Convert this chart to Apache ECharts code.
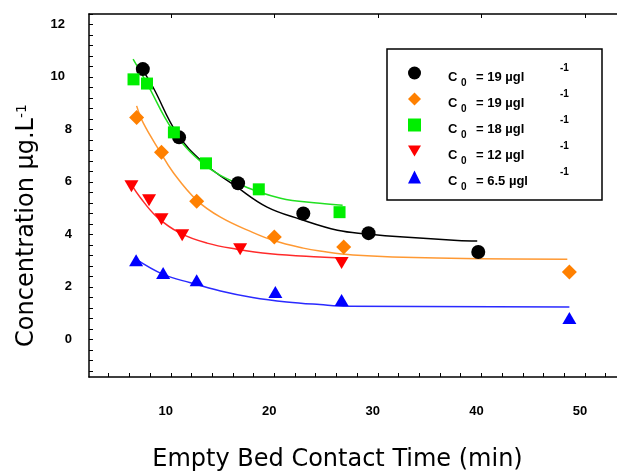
<!DOCTYPE html>
<html><head><meta charset="utf-8">
<script src="https://cdn.jsdelivr.net/npm/echarts@6/dist/echarts.min.js"></script>
<style>html,body{margin:0;padding:0;background:#fff}#c{width:617px;height:475px}</style>
</head><body><div id="c"></div>
<script>
// ---- data ----
const seriesNames = ['C0 = 19 µgl-1 (a)', 'C0 = 19 µgl-1 (b)', 'C0 = 18 µgl-1', 'C0 = 12 µgl-1', 'C0 = 6.5 µgl-1'];
const legendConc = ['19', '19', '18', '12', '6.5'];

const blackX = [7.3, 10.8, 16.5, 22.8, 29.1, 39.7];
const blackY = [9.9, 7.3, 5.55, 4.4, 3.65, 2.93];
const orangeX = [6.7, 9.1, 12.5, 20.0, 26.7, 48.5];
const orangeY = [8.06, 6.73, 4.87, 3.5, 3.12, 2.17];
const greenX = [6.4, 7.7, 10.3, 13.4, 18.5, 26.3];
const greenY = [9.51, 9.35, 7.49, 6.31, 5.32, 4.45];
const redX = [6.2, 7.9, 9.1, 11.1, 16.7, 26.5];
const redY = [5.44, 4.9, 4.18, 3.57, 3.04, 2.51];
const blueX = [6.65, 9.26, 12.5, 20.1, 26.5, 48.5];
const blueY = [2.62, 2.13, 1.86, 1.41, 1.10, 0.42];

const blackFitX = [7.2, 8.3, 10.6, 13.1, 16.4, 19.3, 22.5, 26.1, 29.0, 32.5, 37.7, 39.6];
const blackFitY = [9.92, 9.2, 7.45, 6.35, 5.4, 4.64, 4.18, 3.76, 3.62, 3.5, 3.37, 3.35];
const orangeFitX = [6.7, 7.35, 8.97, 10.2, 12.5, 14.8, 17.9, 20.0, 22.8, 24.4, 27.6, 35.7, 48.3];
const orangeFitY = [8.5, 7.84, 6.75, 5.98, 4.91, 4.26, 3.68, 3.36, 3.08, 2.97, 2.82, 2.70, 2.66];
const greenFitX = [6.36, 7.71, 10.2, 13.1, 16.4, 20.6, 24.4, 26.6];
const greenFitY = [10.28, 9.35, 7.57, 6.31, 5.55, 4.98, 4.79, 4.71];
const redFitX = [6.2, 7.03, 8.68, 10.9, 13.5, 16.4, 19.6, 24.4, 26.6];
const redFitY = [5.5, 5.02, 4.26, 3.65, 3.27, 3.04, 2.87, 2.74, 2.70];
const blueFitX = [6.56, 9.26, 11.9, 14.8, 17.9, 21.2, 24.4, 27.1, 48.5];
const blueFitY = [2.68, 2.08, 1.76, 1.45, 1.2, 1.03, 0.93, 0.87, 0.84];

// ---- ticks ----
const xLabelValues = [10, 20, 30, 40, 50];
const xTickValues = [4, 6, 8, 10, 12, 14, 16, 18, 20, 22, 24, 26, 28, 30, 32, 34, 36, 38, 40, 42, 44, 46, 48, 50, 52];
const yLabelValues = [0, 2, 4, 6, 8, 10, 12];
const yTickValues = [];
for (let k = -4; k <= 30; k++) yTickValues.push(Math.round(k * 0.4 * 10) / 10);

const xName = 'Empty Bed Contact Time (min)';
const yNameMain = 'Concentration µg.L';
const yNameSup = '-1';

const pair = (xs, ys) => xs.map((x, i) => [x, ys[i]]);
const colors = ['#000000', '#ff8000', '#00ee00', '#ff0000', '#0000ff'];
const lineColors = ['#000000', '#ff9933', '#22e022', '#ff2a2a', '#2a2aff'];
const pts = [pair(blackX, blackY), pair(orangeX, orangeY), pair(greenX, greenY), pair(redX, redY), pair(blueX, blueY)];
const fits = [pair(blackFitX, blackFitY), pair(orangeFitX, orangeFitY), pair(greenFitX, greenFitY), pair(redFitX, redFitY), pair(blueFitX, blueFitY)];
const downTri = 'path://M0,0L14,0L7,12Z';
const symbols = ['circle', 'diamond', 'rect', downTri, 'triangle'];
const sizes = [14, 15, 12, [14, 12], [14, 12]];

const tickFont = {fontFamily: 'Liberation Sans', fontWeight: 'bold', fontSize: 13, color: '#000'};
const legFont = {fontFamily: 'Liberation Sans', fontWeight: 'bold', color: '#000'};

const series = [];
fits.forEach((d, i) => series.push({
  type: 'line', data: d, smooth: 0.4, showSymbol: false, symbol: 'none',
  lineStyle: {color: lineColors[i], width: 1.5}, itemStyle: {color: lineColors[i]},
  z: 2, silent: true
}));
pts.forEach((d, i) => series.push({
  type: 'scatter', name: seriesNames[i], data: d, symbol: symbols[i], symbolSize: sizes[i],
  itemStyle: {color: colors[i], opacity: 1}, z: 5
}));

const chart = echarts.init(document.getElementById('c'));
chart.setOption({
  animation: false,
  backgroundColor: '#ffffff',
  grid: {left: 89, top: 14, right: 0, bottom: 98, containLabel: false, outerBoundsMode: 'none'},
  xAxis: [{
    type: 'value', min: 2.1, max: 53.1, position: 'bottom',
    axisLine: {show: true, onZero: false, lineStyle: {color: '#000', width: 1.5}},
    axisTick: {show: true, inside: true, length: 4, customValues: xTickValues, lineStyle: {color: '#000', width: 1}},
    axisLabel: Object.assign({show: true, customValues: xLabelValues, margin: 28, padding: [0, 10, 0, 0]}, tickFont),
    splitLine: {show: false},
    name: xName, nameLocation: 'middle', nameGap: 71,
    nameTextStyle: {fontFamily: 'DejaVu Sans', fontSize: 24, color: '#000', padding: [0, 31, 0, 0]}
  }, {
    type: 'value', min: 2.1, max: 53.1, position: 'top',
    axisLine: {show: true, onZero: false, lineStyle: {color: '#000', width: 1.5}},
    axisTick: {show: true, inside: true, length: 4, customValues: xLabelValues, lineStyle: {color: '#000', width: 1}},
    axisLabel: {show: false}, splitLine: {show: false}
  }],
  yAxis: [{
    type: 'value', min: -1.83, max: 12, position: 'left',
    axisLine: {show: true, onZero: false, lineStyle: {color: '#000', width: 1.5}},
    axisTick: {show: true, inside: true, length: 4, customValues: yTickValues, lineStyle: {color: '#000', width: 1}},
    axisLabel: Object.assign({
      show: true, customValues: yLabelValues, margin: 17, padding: [20, 0, 0, 0],
      formatter: v => (v >= 10 ? '{w|' + v + '}' : '{n|' + v + '}'),
      rich: {w: Object.assign({padding: [0, 7, 0, 0]}, tickFont), n: Object.assign({}, tickFont)}
    }, tickFont),
    splitLine: {show: false},
    name: '{a|' + yNameMain + '}{s|' + yNameSup + '}', nameLocation: 'middle', nameGap: 50, nameRotate: 90,
    nameTextStyle: {
      fontFamily: 'DejaVu Sans', fontSize: 24, color: '#000', padding: [0, 60, 0, 0],
      rich: {
        a: {fontFamily: 'DejaVu Sans', fontSize: 24, color: '#000'},
        s: {fontFamily: 'DejaVu Sans', fontSize: 14, color: '#000', verticalAlign: 'top'}
      }
    }
  }],
  legend: {
    orient: 'vertical', left: 387, top: 49, padding: [9, 26, 8, 21],
    itemGap: -4, itemWidth: 13, itemHeight: 13,
    borderColor: '#000', borderWidth: 1.5, backgroundColor: '#fff', borderRadius: 0,
    selectedMode: false,
    data: seriesNames.map((n, i) => ({name: n, icon: symbols[i], itemStyle: {color: colors[i]}})),
    formatter: name => {
      const i = seriesNames.indexOf(name);
      return '{p| }{c|C}{b|0}{t|= ' + legendConc[i] + ' µgl}{s|-1}';
    },
    textStyle: Object.assign({fontSize: 13, rich: {
      p: Object.assign({width: 22, lineHeight: 30, fontSize: 13}, legFont),
      c: Object.assign({width: 13, lineHeight: 10, verticalAlign: 'bottom', padding: [0, 0, 4, 0], fontSize: 13}, legFont),
      b: Object.assign({width: 15, lineHeight: 10, verticalAlign: 'bottom', fontSize: 10}, legFont),
      t: Object.assign({width: 84, lineHeight: 10, verticalAlign: 'bottom', padding: [0, 0, 4, 0], fontSize: 13}, legFont),
      s: Object.assign({width: 16, lineHeight: 10, verticalAlign: 'top', padding: [5, 0, 0, 0], fontSize: 10}, legFont)
    }}, legFont)
  },
  series: series
});
</script>
</body></html>
